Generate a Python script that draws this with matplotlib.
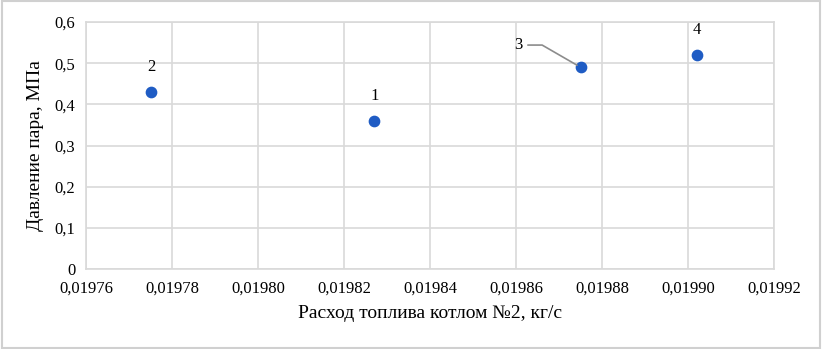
import numpy as np
import matplotlib.pyplot as plt
from matplotlib.ticker import FuncFormatter, MultipleLocator
from matplotlib.patches import Rectangle

plt.rcParams['font.family'] = ['Liberation Serif', 'DejaVu Serif']

# data
fuel_flow = [0.019827, 0.019775, 0.019875, 0.019902]
pressure = [0.36, 0.43, 0.49, 0.52]
point_labels = ['1', '2', '3', '4']

fig = plt.figure(figsize=(8.22, 3.49), dpi=100)
ax = fig.add_axes([0.1052, 0.229, 0.8364, 0.708])

ax.scatter(fuel_flow, pressure, s=55, color='#1f5cc4', zorder=3)

for x, y, lab in zip(fuel_flow, pressure, point_labels):
    if lab == '3':
        ax.annotate(lab, (x, y), xytext=(-42, 16), textcoords='offset points',
                    fontsize=12, ha='right', va='center',
                    arrowprops=dict(arrowstyle='-', color='#8c8c8c', lw=1.2,
                                    shrinkA=2, shrinkB=3,
                                    connectionstyle='angle,angleA=0,angleB=-30,rad=0'))
    else:
        ax.annotate(lab, (x, y), xytext=(0, 12), textcoords='offset points',
                    fontsize=12, ha='center', va='bottom')

ax.set_xlim(0.01976, 0.01992)
ax.set_ylim(0, 0.6)
ax.xaxis.set_major_locator(MultipleLocator(0.00002))
ax.yaxis.set_major_locator(MultipleLocator(0.1))
ax.xaxis.set_major_formatter(FuncFormatter(lambda v, p: f'{v:.5f}'.replace('.', ',')))
ax.yaxis.set_major_formatter(FuncFormatter(lambda v, p: '0' if abs(v) < 1e-9 else f'{v:.1f}'.replace('.', ',')))
ax.tick_params(length=0, labelsize=12, pad=8)
ax.grid(True, color='#d9d9d9', lw=1.2)
ax.set_axisbelow(True)
for s in ax.spines.values():
    s.set_color('#d9d9d9')
    s.set_linewidth(1.2)

ax.set_xlabel('Расход топлива котлом №2, кг/с', fontsize=14, labelpad=6)
ax.set_ylabel('Давление пара, МПа', fontsize=14, labelpad=8)

fig.patches.append(Rectangle((0.002, 0.004), 0.996, 0.992, transform=fig.transFigure,
                             fill=False, edgecolor='#d0d0d0', lw=1.5))

fig.savefig('out.png', dpi=100)
